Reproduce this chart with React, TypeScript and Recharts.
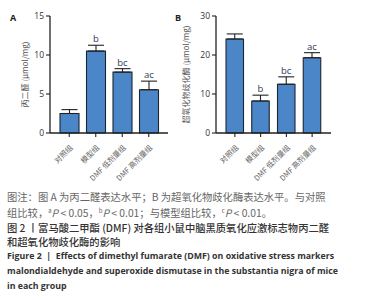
import { BarChart, Bar, XAxis, YAxis, ErrorBar, LabelList } from 'recharts';

const groups = ['对照组', '模型组', 'DMF 低剂量组', 'DMF 高剂量组'];
const mdaMean = [2.5, 10.5, 7.8, 5.55];
const mdaErr = [0.5, 0.75, 0.45, 1.1];
const sodMean = [24.1, 8.2, 12.5, 19.3];
const sodErr = [1.3, 1.5, 1.9, 1.3];
const sigMarks = ['', 'b', 'bc', 'ac'];
const mdaTicks = [0, 5, 10, 15];
const sodTicks = [0, 10, 20, 30];

const mdaData = groups.map((g, i) => ({ group: g, mean: mdaMean[i], err: [0, mdaErr[i]], sig: sigMarks[i] }));
const sodData = groups.map((g, i) => ({ group: g, mean: sodMean[i], err: [0, sodErr[i]], sig: sigMarks[i] }));

const CJK = '"Noto Sans CJK SC", "Noto Sans", sans-serif';
const SANS = '"Open Sans", "Noto Sans", sans-serif';
const supStyle = { fontSize: 6, lineHeight: 0, verticalAlign: 'super' as const };

const GroupTick = (props: any) => {
  const { x, y, payload } = props;
  return (
    <g transform={`translate(${x + 2},${y + 7})`}>
      <text textAnchor="end" transform="rotate(-45)" fontSize={7.5} fill="#666" fontFamily={CJK} dy={3}>
        {payload.value}
      </text>
    </g>
  );
};

// letter marks sit just above the error bar caps
function sigLabel(errs: number[], values: number[]) {
  return (props: any) => {
    const { x, y, width, height, index } = props;
    const mark = sigMarks[index];
    if (!mark) return null;
    const pxPerUnit = height / values[index];
    const top = y - errs[index] * pxPerUnit;
    return (
      <text x={x + width / 2} y={top - 3} textAnchor="middle" fontSize={9.5} fill="#2b3a5c" fontFamily={SANS}>
        {mark}
      </text>
    );
  };
}

function Panel(props: { data: any[]; ticks: number[]; max: number; label: string; labelX: number; width: number; yWidth: number; barSize: number; errs: number[]; values: number[] }) {
  const { data, ticks, max, label, labelX, width, yWidth, barSize, errs, values } = props;
  return (
    <BarChart width={width} height={190} data={data} margin={{ top: 16, right: 7, left: 0, bottom: 0 }}>
      <XAxis
        dataKey="group"
        interval={0}
        height={57}
        padding={{ left: 6, right: 6 }}
        axisLine={{ stroke: '#222', strokeWidth: 1.3 }}
        tickLine={{ stroke: '#222', strokeWidth: 1.1 }}
        tickSize={4}
        tick={<GroupTick />}
      />
      <YAxis
        domain={[0, max]}
        ticks={ticks}
        width={yWidth}
        axisLine={{ stroke: '#222', strokeWidth: 1.3 }}
        tickLine={{ stroke: '#222', strokeWidth: 1.1 }}
        tickSize={4}
        tick={{ fontSize: 8.5, fill: '#333', fontFamily: SANS }}
        label={{ value: label, angle: -90, position: 'insideLeft', offset: labelX, style: { fontSize: 8, fill: '#555', fontFamily: CJK, textAnchor: 'middle' } }}
      />
      <Bar dataKey="mean" fill="#4a86c8" stroke="#1c2633" strokeWidth={1.1} barSize={barSize} isAnimationActive={false}>
        <ErrorBar dataKey="err" direction="y" width={8} stroke="#222" strokeWidth={1.1} />
        <LabelList dataKey="sig" content={sigLabel(errs, values)} />
      </Bar>
    </BarChart>
  );
}

export default function App() {
  return (
    <div style={{ position: 'absolute', left: 0, top: 0, width: 374, height: 300, background: '#fff', overflow: 'hidden' }}>
      <div style={{ position: 'absolute', left: 0, top: 0, height: 186, overflow: 'hidden' }}>
        <Panel data={mdaData} ticks={mdaTicks} max={15} label="丙二醛 (μmol/mg)" labelX={25} width={175} yWidth={50} barSize={19} errs={mdaErr} values={mdaMean} />
      </div>
      <div style={{ position: 'absolute', left: 170, top: 0, height: 186, overflow: 'hidden' }}>
        <Panel data={sodData} ticks={sodTicks} max={30} label="超氧化物歧化酶 (μmol/mg)" labelX={16} width={168} yWidth={46} barSize={17.5} errs={sodErr} values={sodMean} />
      </div>
      <div style={{ position: 'absolute', left: 10, top: 11, fontFamily: SANS, fontWeight: 700, fontSize: 9, color: '#222' }}>A</div>
      <div style={{ position: 'absolute', left: 175, top: 11, fontFamily: SANS, fontWeight: 700, fontSize: 9, color: '#222' }}>B</div>
      <div style={{ position: 'absolute', left: 7, top: 189, fontFamily: CJK, fontSize: 10.3, lineHeight: '15.5px', whiteSpace: 'nowrap', color: '#666' }}>
        <div>图注：图 A 为丙二醛表达水平；B 为超氧化物歧化酶表达水平。与对照</div>
        <div>
          组比较，<sup style={supStyle}>a</sup><i>P</i> &lt; 0.05，<sup style={supStyle}>b</sup><i>P</i> &lt; 0.01；与模型组比较，<sup style={supStyle}>c</sup><i>P</i> &lt; 0.01。
        </div>
      </div>
      <div style={{ position: 'absolute', left: 7, top: 221, fontFamily: CJK, fontSize: 10.3, fontWeight: 500, lineHeight: '13.5px', whiteSpace: 'nowrap', color: '#333' }}>
        <div>图 2 丨富马酸二甲酯 (DMF) 对各组小鼠中脑黑质氧化应激标志物丙二醛</div>
        <div>和超氧化物歧化酶的影响</div>
      </div>
      <div style={{ position: 'absolute', left: 7, top: 249, fontFamily: SANS, fontSize: 8.8, fontWeight: 700, lineHeight: '15px', whiteSpace: 'nowrap', color: '#333' }}>
        <div>Figure 2&nbsp; |&nbsp; Effects of dimethyl fumarate (DMF) on oxidative stress markers</div>
        <div>malondialdehyde and superoxide dismutase in the substantia nigra of mice</div>
        <div>in each group</div>
      </div>
    </div>
  );
}
